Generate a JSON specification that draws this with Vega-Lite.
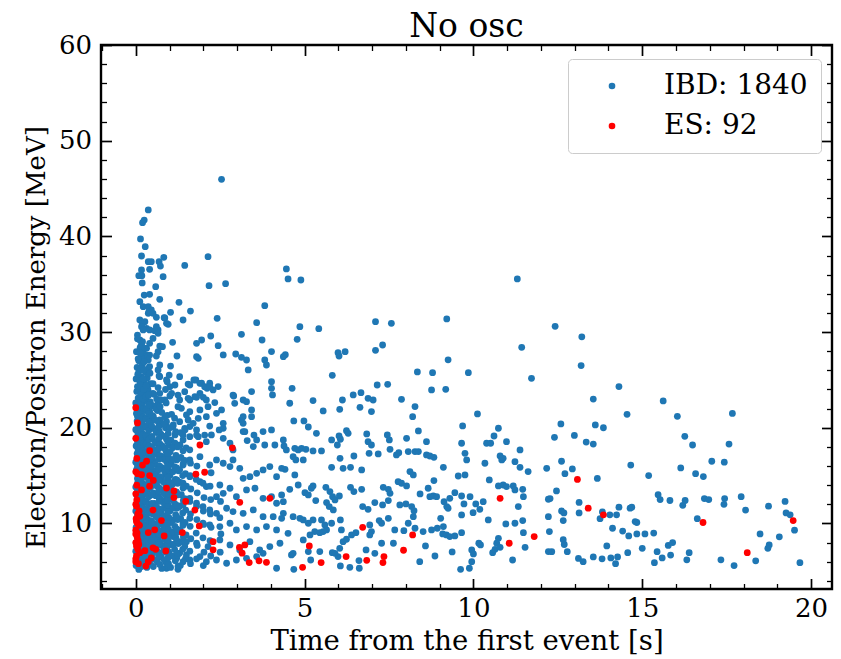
{
"$schema": "https://vega.github.io/schema/vega-lite/v6.json",
"width": 731, "height": 544,
"autosize": {"type": "none"},
"padding": {"left": 101, "top": 45, "right": 9, "bottom": 70},
"config": {"font": "DejaVu Serif", "view": {"stroke": "black", "strokeWidth": 2.4}},
"title": {"text": "No osc", "fontSize": 33, "fontWeight": "normal", "color": "black", "offset": -12},
"datasets": {
"ibd": [
{"x":12.42,"y":30.6},{"x":13.21,"y":29.5},{"x":13.19,"y":26.5},{"x":14.31,"y":24.3},{"x":13.55,"y":23.0},{"x":15.62,"y":22.8},{"x":17.67,"y":21.5},{"x":14.55,"y":21.4},{"x":16.04,"y":21.2},{"x":12.59,"y":20.4},{"x":13.61,"y":20.3},{"x":13.85,"y":20.0},{"x":12.40,"y":19.0},{"x":12.99,"y":19.2},{"x":16.26,"y":19.1},{"x":13.34,"y":18.5},{"x":13.55,"y":18.3},{"x":16.49,"y":18.2},{"x":17.57,"y":18.3},{"x":12.61,"y":16.5},{"x":14.66,"y":16.1},{"x":17.06,"y":16.5},{"x":17.43,"y":16.4},{"x":16.14,"y":15.8},{"x":12.93,"y":15.7},{"x":12.71,"y":15.2},{"x":13.67,"y":14.7},{"x":15.19,"y":15.0},{"x":16.58,"y":15.2},{"x":16.81,"y":14.9},{"x":12.46,"y":13.4},{"x":13.13,"y":12.2},{"x":12.27,"y":12.6},{"x":15.47,"y":13.0},{"x":15.53,"y":12.5},{"x":15.82,"y":12.4},{"x":16.20,"y":11.9},{"x":16.27,"y":12.4},{"x":16.84,"y":12.6},{"x":16.97,"y":12.5},{"x":17.44,"y":12.6},{"x":17.42,"y":12.0},{"x":17.93,"y":12.8},{"x":18.06,"y":11.4},{"x":18.74,"y":11.8},{"x":19.23,"y":12.3},{"x":19.26,"y":11.1},{"x":19.38,"y":10.9},{"x":19.51,"y":9.3},{"x":19.67,"y":5.9},{"x":13.13,"y":11.1},{"x":12.61,"y":11.3},{"x":12.68,"y":11.1},{"x":12.66,"y":10.3},{"x":13.75,"y":10.5},{"x":13.82,"y":11.2},{"x":14.04,"y":10.9},{"x":14.24,"y":10.9},{"x":14.31,"y":11.7},{"x":14.64,"y":11.6},{"x":14.69,"y":11.7},{"x":16.63,"y":10.5},{"x":14.79,"y":10.2},{"x":14.84,"y":10.1},{"x":14.12,"y":9.5},{"x":14.42,"y":9.2},{"x":14.60,"y":8.7},{"x":14.84,"y":8.9},{"x":15.08,"y":8.9},{"x":15.34,"y":9.0},{"x":12.66,"y":8.3},{"x":12.69,"y":7.8},{"x":12.78,"y":7.05},{"x":12.32,"y":7.05},{"x":13.95,"y":7.65},{"x":14.57,"y":6.95},{"x":15.0,"y":7.4},{"x":15.77,"y":7.7},{"x":15.90,"y":8.0},{"x":15.44,"y":7.05},{"x":15.84,"y":6.7},{"x":16.39,"y":6.95},{"x":18.49,"y":8.9},{"x":19.06,"y":8.6},{"x":18.76,"y":7.75},{"x":18.72,"y":7.4},{"x":18.36,"y":6.1},{"x":17.33,"y":6.2},{"x":17.72,"y":5.6},{"x":13.11,"y":6.35},{"x":13.25,"y":6.0},{"x":13.55,"y":6.5},{"x":13.81,"y":6.3},{"x":14.07,"y":6.4},{"x":14.27,"y":6.5},{"x":14.21,"y":5.8},{"x":15.36,"y":5.9},{"x":15.59,"y":6.4},{"x":16.32,"y":6.2},
{"x":4.46,"y":36.6},{"x":4.51,"y":35.55},{"x":4.89,"y":35.44},{"x":11.30,"y":35.55},{"x":4.86,"y":30.56},{"x":5.42,"y":30.36},{"x":4.78,"y":29.24},{"x":7.1,"y":31.09},{"x":7.57,"y":30.91},{"x":9.21,"y":31.37},{"x":11.43,"y":28.41},{"x":7.31,"y":28.65},{"x":7.1,"y":28.09},{"x":5.99,"y":27.85},{"x":6.02,"y":27.5},{"x":6.2,"y":27.95},{"x":4.43,"y":27.64},
{"x":9.25,"y":27.1},{"x":8.34,"y":25.83},{"x":8.79,"y":25.76},{"x":9.85,"y":25.76},{"x":5.82,"y":25.48},{"x":11.72,"y":25.17},{"x":7.15,"y":24.47},{"x":7.46,"y":24.54},{"x":4.63,"y":24.12},{"x":8.76,"y":23.95},{"x":9.18,"y":24.02},{"x":6.44,"y":23.43},{"x":6.67,"y":23.67},{"x":6.88,"y":23.08},{"x":7.03,"y":22.9},{"x":5.25,"y":22.84},{"x":6.12,"y":22.9},{"x":4.56,"y":22.56},{"x":7.87,"y":22.97},{"x":8.27,"y":22.21},{"x":8.20,"y":21.16},{"x":6.64,"y":22.14},{"x":6.98,"y":21.69},{"x":6.04,"y":21.93},{"x":5.55,"y":21.76},{"x":10.12,"y":21.44},{"x":4.68,"y":20.71},{"x":4.98,"y":20.71},{"x":5.11,"y":20.08},{"x":9.68,"y":20.19},{"x":10.74,"y":19.95},{"x":10.61,"y":19.14},{"x":6.24,"y":19.7},{"x":6.29,"y":19.42},{"x":6.02,"y":19.14},{"x":6.06,"y":18.8},{"x":5.35,"y":19.42},{"x":5.8,"y":18.73},{"x":5.97,"y":18.2},{"x":6.84,"y":19.35},{"x":6.88,"y":18.55},{"x":6.98,"y":18.2},{"x":7.45,"y":19.25},{"x":7.51,"y":18.73},{"x":7.53,"y":17.75},{"x":8.02,"y":18.9},{"x":8.37,"y":19.67},{"x":8.61,"y":18.55},{"x":9.65,"y":18.38},{"x":10.39,"y":18.38},{"x":10.51,"y":18.38},{"x":10.98,"y":18.55},{"x":11.38,"y":17.68},{"x":4.39,"y":18.1},{"x":4.71,"y":17.85},{"x":4.81,"y":17.68},{"x":4.91,"y":17.85},{"x":5.04,"y":17.75},{"x":5.25,"y":17.58},{"x":5.5,"y":17.58},{"x":4.66,"y":16.98},{"x":4.74,"y":16.64},{"x":4.96,"y":16.64},{"x":6.05,"y":16.81},{"x":6.46,"y":17.05},{"x":6.91,"y":17.33},{"x":7.18,"y":17.26},{"x":7.72,"y":17.16},{"x":7.79,"y":17.4},{"x":8.07,"y":17.51},{"x":8.27,"y":17.51},{"x":8.37,"y":17.51},{"x":8.61,"y":17.16},{"x":8.71,"y":17.05},{"x":8.83,"y":16.91},{"x":10.79,"y":17.05},{"x":10.84,"y":16.64},{"x":10.88,"y":16.81},{"x":11.23,"y":16.46},{"x":9.75,"y":17.33},{"x":9.80,"y":16.64},{"x":10.34,"y":16.29},{"x":4.42,"y":15.66},{"x":5.8,"y":15.87},{"x":6.14,"y":15.76},{"x":6.36,"y":15.87},{"x":6.69,"y":15.59},{"x":8.12,"y":15.42},{"x":8.22,"y":15.07},{"x":9.11,"y":15.87},{"x":9.55,"y":14.96},{"x":9.75,"y":15.07},{"x":11.38,"y":15.87},{"x":11.62,"y":15.42},{"x":12.17,"y":15.76},{"x":4.71,"y":15.07},{"x":4.32,"y":12.98},{"x":4.81,"y":14.02},{"x":4.56,"y":13.57},{"x":5.25,"y":13.92},{"x":5.2,"y":13.68},{"x":5.01,"y":13.22},{"x":5.11,"y":12.98},{"x":5.33,"y":12.39},{"x":5.63,"y":13.78},{"x":5.75,"y":13.33},{"x":5.83,"y":12.8},{"x":5.9,"y":12.46},{"x":6.03,"y":12.87},{"x":5.65,"y":12.18},{"x":5.73,"y":11.76},{"x":5.85,"y":11.41},{"x":6.36,"y":13.78},{"x":6.46,"y":13.33},{"x":6.69,"y":13.57},{"x":6.72,"y":11.76},{"x":6.88,"y":11.48},{"x":7.08,"y":12.18},{"x":7.33,"y":13.78},{"x":7.48,"y":13.57},{"x":7.53,"y":13.15},{"x":7.48,"y":12.39},{"x":7.31,"y":11.93},{"x":7.77,"y":14.37},{"x":7.87,"y":14.2},{"x":8.02,"y":13.92},{"x":8.42,"y":13.08},{"x":8.66,"y":13.68},{"x":8.71,"y":12.8},{"x":8.81,"y":12.87},{"x":8.91,"y":12.8},{"x":8.83,"y":14.48},{"x":7.82,"y":11.93},{"x":8.0,"y":12.04},{"x":8.17,"y":11.76},{"x":8.24,"y":11.34},{"x":8.22,"y":10.71},{"x":9.13,"y":12.28},{"x":9.21,"y":11.76},{"x":9.3,"y":12.63},{"x":9.45,"y":13.22},{"x":9.65,"y":12.87},{"x":9.72,"y":12.04},{"x":9.9,"y":12.8},{"x":10.07,"y":12.04},{"x":10.29,"y":12.28},{"x":10.47,"y":14.55},{"x":10.74,"y":13.92},{"x":10.88,"y":14.02},{"x":10.98,"y":13.85},{"x":11.18,"y":13.92},{"x":11.23,"y":13.5},{"x":11.46,"y":13.57},{"x":11.48,"y":12.8},{"x":11.33,"y":11.76},{"x":12.22,"y":12.53},{"x":4.37,"y":11.06},{"x":4.66,"y":10.71},{"x":4.86,"y":10.54},{"x":4.96,"y":10.37},{"x":5.11,"y":10.02},{"x":5.25,"y":10.37},{"x":5.5,"y":10.37},{"x":5.6,"y":9.85},{"x":5.65,"y":9.32},{"x":5.8,"y":10.02},{"x":6.06,"y":10.37},{"x":6.09,"y":9.32},{"x":5.3,"y":9.15},{"x":5.45,"y":9.04},{"x":5.55,"y":9.15},{"x":5.16,"y":8.8},{"x":6.39,"y":8.8},{"x":6.52,"y":9.04},{"x":6.93,"y":9.84},{"x":6.98,"y":9.15},{"x":6.93,"y":8.8},{"x":7.21,"y":10.3},{"x":7.28,"y":10.02},{"x":7.48,"y":10.54},{"x":7.67,"y":9.32},{"x":7.94,"y":9.25},{"x":8.07,"y":10.02},{"x":8.27,"y":9.5},{"x":8.51,"y":9.15},{"x":8.76,"y":9.32},{"x":8.93,"y":9.5},{"x":9.03,"y":10.54},{"x":9.11,"y":9.67},{"x":9.09,"y":8.9},{"x":9.2,"y":8.8},{"x":9.3,"y":8.63},{"x":9.45,"y":8.7},{"x":9.65,"y":9.04},{"x":9.25,"y":11.59},{"x":9.65,"y":10.89},{"x":9.99,"y":11.13},{"x":10.19,"y":11.48},{"x":10.44,"y":10.37},{"x":10.96,"y":9.95},{"x":11.23,"y":10.02},{"x":11.46,"y":10.3},{"x":10.74,"y":8.45},{"x":10.69,"y":7.93},{"x":11.48,"y":9.04},{"x":11.53,"y":7.51},{"x":12.22,"y":10.71},{"x":12.25,"y":9.15},{"x":12.22,"y":7.06},{"x":11.16,"y":6.18},{"x":10.57,"y":6.95},{"x":10.64,"y":7.3},{"x":10.79,"y":7.51},{"x":9.95,"y":7.23},{"x":10.0,"y":6.81},{"x":10.16,"y":7.93},{"x":10.21,"y":7.76},{"x":9.95,"y":6.01},{"x":9.62,"y":5.21},{"x":9.88,"y":5.32},{"x":9.37,"y":7.02},{"x":8.86,"y":6.6},{"x":8.58,"y":7.65},{"x":8.41,"y":6.01},{"x":7.63,"y":7.93},{"x":7.28,"y":7.93},{"x":7.08,"y":6.88},{"x":6.82,"y":7.23},{"x":6.61,"y":6.12},{"x":6.62,"y":5.32},{"x":6.34,"y":5.42},{"x":6.06,"y":5.56},{"x":5.99,"y":6.54},{"x":5.9,"y":6.88},{"x":5.82,"y":6.95},{"x":6.04,"y":7.4},{"x":6.14,"y":8.1},{"x":6.24,"y":8.35},{"x":5.45,"y":7.06},{"x":4.96,"y":8.28},{"x":5.11,"y":7.06},{"x":5.18,"y":6.18},{"x":4.68,"y":5.21},{"x":4.61,"y":6.71},{"x":4.66,"y":6.88},{"x":4.51,"y":8.97},
{"x":1.22,"y":27.5},{"x":1.8,"y":27.43},{"x":1.85,"y":27.26},{"x":2.59,"y":27.61},{"x":2.96,"y":27.71},{"x":3.13,"y":27.36},{"x":3.82,"y":27.09},{"x":3.87,"y":26.56},{"x":4.02,"y":27.96},{"x":4.37,"y":27.43},{"x":0.69,"y":25.41},{"x":0.93,"y":24.82},{"x":1.16,"y":24.47},{"x":1.6,"y":24.47},{"x":1.78,"y":24.99},{"x":1.95,"y":24.65},{"x":2.19,"y":24.65},{"x":2.44,"y":24.3},{"x":2.11,"y":24.12},{"x":2.9,"y":23.32},{"x":3.18,"y":22.9},{"x":3.43,"y":23.78},{"x":4.02,"y":24.82},{"x":4.02,"y":24.12},{"x":4.05,"y":23.43},{"x":0.71,"y":23.6},{"x":1.01,"y":23.32},{"x":1.3,"y":22.9},{"x":1.55,"y":23.08},{"x":1.75,"y":23.25},{"x":1.9,"y":23.6},{"x":2.09,"y":22.9},{"x":2.34,"y":22.63},{"x":2.54,"y":21.86},{"x":2.39,"y":21.51},{"x":2.09,"y":21.16},{"x":1.85,"y":20.99},{"x":1.5,"y":21.34},{"x":1.3,"y":20.64},{"x":1.11,"y":20.29},{"x":0.91,"y":20.64},{"x":1.6,"y":20.12},{"x":1.8,"y":19.77},{"x":1.6,"y":19.07},{"x":1.4,"y":18.73},{"x":1.16,"y":19.25},{"x":1.85,"y":19.07},{"x":2.09,"y":18.55},{"x":2.24,"y":19.25},{"x":2.47,"y":19.77},{"x":2.59,"y":18.9},{"x":2.79,"y":18.38},{"x":2.88,"y":17.68},{"x":3.13,"y":20.81},{"x":3.18,"y":19.6},{"x":3.3,"y":18.66},{"x":3.77,"y":19.6},{"x":3.58,"y":18.73},{"x":3.48,"y":18.03},{"x":4.02,"y":19.77},{"x":3.82,"y":18.2},{"x":4.12,"y":18.2},{"x":4.37,"y":18.73},{"x":4.46,"y":17.68},{"x":2.88,"y":16.64},{"x":2.79,"y":15.94},{"x":2.59,"y":16.29},{"x":2.39,"y":16.64},{"x":2.19,"y":16.11},{"x":1.9,"y":16.98},{"x":1.6,"y":16.64},{"x":1.4,"y":16.11},{"x":1.21,"y":16.64},{"x":1.01,"y":16.64},{"x":0.81,"y":16.98},{"x":3.08,"y":15.76},{"x":3.18,"y":14.72},{"x":3.38,"y":14.89},{"x":3.58,"y":15.24},{"x":3.77,"y":15.59},{"x":3.97,"y":15.94},{"x":4.17,"y":14.89},{"x":4.32,"y":15.76},{"x":1.6,"y":14.89},{"x":1.9,"y":14.37},{"x":2.09,"y":13.85},{"x":1.4,"y":14.2},{"x":1.21,"y":14.55},{"x":0.96,"y":14.37},{"x":0.76,"y":14.72},{"x":2.49,"y":14.02},{"x":2.79,"y":13.68},{"x":2.59,"y":13.15},{"x":2.39,"y":12.8},{"x":2.98,"y":12.8},{"x":3.28,"y":13.5},{"x":3.53,"y":13.68},{"x":3.77,"y":12.63},{"x":4.02,"y":12.8},{"x":4.17,"y":12.11},{"x":4.37,"y":12.28},{"x":1.6,"y":12.63},{"x":1.8,"y":12.11},{"x":1.99,"y":11.76},{"x":1.4,"y":11.93},{"x":1.21,"y":11.59},{"x":1.01,"y":11.41},{"x":2.19,"y":11.41},{"x":2.39,"y":11.06},{"x":2.69,"y":11.59},{"x":2.88,"y":11.24},{"x":3.18,"y":11.06},{"x":3.48,"y":11.41},{"x":3.77,"y":10.71},{"x":4.07,"y":10.71},{"x":4.32,"y":10.54},{"x":1.11,"y":10.37},{"x":1.4,"y":10.02},{"x":1.6,"y":10.54},{"x":1.99,"y":10.02},{"x":2.19,"y":9.85},{"x":2.49,"y":9.67},{"x":2.79,"y":10.02},{"x":2.98,"y":9.32},{"x":3.28,"y":9.67},{"x":3.58,"y":9.32},{"x":3.87,"y":9.67},{"x":4.17,"y":9.32},{"x":1.11,"y":8.63},{"x":1.5,"y":8.1},{"x":1.8,"y":7.93},{"x":2.14,"y":7.58},{"x":2.49,"y":8.28},{"x":2.79,"y":7.75},{"x":3.08,"y":7.23},{"x":3.38,"y":8.1},{"x":3.67,"y":7.23},{"x":3.97,"y":7.58},{"x":4.27,"y":7.93},{"x":1.21,"y":6.36},{"x":1.6,"y":6.18},{"x":1.9,"y":6.54},{"x":2.09,"y":6.01},{"x":2.39,"y":6.18},{"x":2.69,"y":5.84},{"x":2.98,"y":6.18},{"x":3.28,"y":6.36},{"x":3.58,"y":6.54},{"x":3.77,"y":6.88},{"x":1.25,"y":5.21},{"x":0.91,"y":5.32},{"x":1.5,"y":6.71},{"x":4.17,"y":5.32},
{"x":2.54,"y":45.96},{"x":0.37,"y":42.76},{"x":0.25,"y":41.71},{"x":0.2,"y":41.43},{"x":0.14,"y":39.73},{"x":0.28,"y":38.92},{"x":0.17,"y":37.95},{"x":0.83,"y":37.81},{"x":0.37,"y":37.36},{"x":0.46,"y":37.36},{"x":0.69,"y":37.36},{"x":0.73,"y":36.9},{"x":1.45,"y":36.97},{"x":2.14,"y":37.88},{"x":0.17,"y":36.49},{"x":0.41,"y":36.56},{"x":0.09,"y":35.89},{"x":0.18,"y":35.89},{"x":0.81,"y":35.79},{"x":0.19,"y":35.13},{"x":0.59,"y":34.74},{"x":2.17,"y":34.85},{"x":2.66,"y":35.06},{"x":0.25,"y":33.87},{"x":0.41,"y":33.94},{"x":0.71,"y":33.42},{"x":0.12,"y":33.18},{"x":0.22,"y":32.65},{"x":0.37,"y":32.65},{"x":1.28,"y":33.11},{"x":3.82,"y":32.76},{"x":0.46,"y":32.31},{"x":0.37,"y":31.96},{"x":0.61,"y":31.54},{"x":0.86,"y":31.47},{"x":1.03,"y":32.06},{"x":1.62,"y":32.2},{"x":0.12,"y":31.26},{"x":0.2,"y":30.91},{"x":0.27,"y":31.09},{"x":0.32,"y":30.39},{"x":0.41,"y":30.22},{"x":0.61,"y":30.56},{"x":0.66,"y":30.22},{"x":0.96,"y":30.81},{"x":1.4,"y":31.26},{"x":2.41,"y":31.44},{"x":3.58,"y":30.98},{"x":0.05,"y":29.69},{"x":0.12,"y":29.17},{"x":0.17,"y":28.72},{"x":0.41,"y":28.82},{"x":0.71,"y":28.54},{"x":0.79,"y":28.47},{"x":1.09,"y":28.93},{"x":1.8,"y":28.82},{"x":1.95,"y":29.17},{"x":2.22,"y":29.59},{"x":2.44,"y":28.58},{"x":3.13,"y":29.76},{"x":3.74,"y":29.17},{"x":0.02,"y":27.95},{"x":0.12,"y":27.85},{"x":0.22,"y":27.78},{"x":0.32,"y":27.6},{"x":0.41,"y":27.6},
{"x":0.39,"y":32.13},{"x":0.51,"y":31.96},{"x":0.84,"y":31.5},{"x":0.91,"y":30.91},{"x":0.17,"y":30.56},{"x":0.22,"y":30.22},{"x":0.56,"y":30.15},{"x":0.66,"y":29.87},{"x":3.28,"y":27.08},{"x":3.33,"y":26.04},{"x":1.03,"y":26.45},{"x":0.99,"y":25.51},{"x":1.3,"y":25.34},{"x":0.66,"y":27.95},{"x":0.61,"y":27.5},{"x":0.51,"y":29.34},{"x":0.32,"y":28.3},{"x":0.27,"y":27.43},{"x":0.37,"y":27.08},{"x":0.71,"y":26.56},{"x":0.66,"y":26.04},{"x":0.41,"y":26.4},{"x":0.71,"y":25.34},{"x":0.91,"y":24.99},{"x":1.01,"y":24.29},{"x":1.25,"y":23.42},{"x":1.45,"y":23.77},{"x":1.55,"y":24.57},{"x":1.72,"y":24.99},{"x":1.9,"y":24.64},{"x":2.04,"y":24.29},{"x":2.19,"y":24.29},{"x":2.29,"y":23.95},{"x":1.06,"y":23.6},{"x":0.86,"y":22.9},{"x":0.66,"y":22.55},{"x":0.51,"y":23.6},{"x":1.6,"y":22.9},{"x":1.8,"y":23.18},{"x":2.0,"y":23.18},{"x":2.14,"y":22.2},{"x":1.9,"y":21.86},{"x":1.6,"y":21.68},{"x":1.35,"y":22.03},{"x":1.25,"y":22.2},{"x":2.88,"y":23.42},{"x":2.93,"y":22.55},{"x":3.28,"y":22.73},{"x":3.43,"y":21.86},{"x":3.43,"y":21.16},{"x":3.18,"y":21.16},{"x":2.19,"y":20.18},{"x":2.59,"y":20.46},{"x":2.59,"y":19.94},{"x":3.18,"y":20.46},{"x":3.23,"y":19.59},{"x":3.5,"y":19.24},{"x":1.8,"y":19.24},{"x":2.04,"y":19.24},{"x":1.4,"y":19.24},{"x":1.1,"y":20.11},{"x":0.86,"y":21.16},{"x":0.71,"y":20.81},{"x":0.91,"y":20.11},{"x":0.66,"y":19.59},{"x":1.55,"y":20.81},{"x":1.7,"y":20.46},{"x":1.45,"y":19.94},
{"x":0.01,"y":5.6},{"x":0.04,"y":6.4},{"x":0.0,"y":7.1},{"x":0.03,"y":7.9},{"x":0.05,"y":8.7},{"x":0.01,"y":9.6},{"x":0.03,"y":10.4},{"x":0.0,"y":11.3},{"x":0.04,"y":12.1},{"x":0.02,"y":13.0},{"x":0.0,"y":13.8},{"x":0.05,"y":14.7},{"x":0.02,"y":15.6},{"x":0.0,"y":16.4},{"x":0.04,"y":17.3},{"x":0.01,"y":18.1},{"x":0.03,"y":19.0},{"x":0.0,"y":19.8},{"x":0.04,"y":20.7},{"x":0.02,"y":21.5},{"x":0.0,"y":22.6},{"x":0.03,"y":23.8},{"x":0.01,"y":25.1},{"x":0.04,"y":26.3},
{"x":0.09,"y":5.2},{"x":0.12,"y":5.9},{"x":0.08,"y":6.7},{"x":0.11,"y":7.5},{"x":0.1,"y":8.3},{"x":0.13,"y":9.1},{"x":0.08,"y":9.9},{"x":0.11,"y":10.7},{"x":0.09,"y":11.6},{"x":0.12,"y":12.4},{"x":0.1,"y":13.3},{"x":0.08,"y":14.1},{"x":0.13,"y":15.0},{"x":0.1,"y":15.8},{"x":0.09,"y":16.7},{"x":0.12,"y":17.6},{"x":0.1,"y":18.5},{"x":0.08,"y":19.3},{"x":0.11,"y":20.2},{"x":0.13,"y":21.1},{"x":0.09,"y":22.0},{"x":0.11,"y":22.9},{"x":0.08,"y":23.9},{"x":0.12,"y":24.8},{"x":0.1,"y":25.9},{"x":0.09,"y":27.0},{"x":0.13,"y":28.4},
{"x":0.17,"y":5.5},{"x":0.2,"y":6.2},{"x":0.16,"y":7.0},{"x":0.19,"y":7.8},{"x":0.18,"y":8.6},{"x":0.21,"y":9.4},{"x":0.17,"y":10.2},{"x":0.2,"y":11.0},{"x":0.16,"y":11.8},{"x":0.19,"y":12.7},{"x":0.21,"y":13.5},{"x":0.17,"y":14.4},{"x":0.19,"y":15.3},{"x":0.16,"y":16.1},{"x":0.2,"y":17.0},{"x":0.18,"y":17.9},{"x":0.21,"y":18.8},{"x":0.17,"y":19.6},{"x":0.19,"y":20.5},{"x":0.16,"y":21.4},{"x":0.2,"y":22.3},{"x":0.18,"y":23.2},{"x":0.21,"y":24.2},{"x":0.17,"y":25.3},{"x":0.19,"y":26.5},{"x":0.16,"y":27.4},{"x":0.2,"y":29.0},
{"x":0.25,"y":5.8},{"x":0.28,"y":6.6},{"x":0.24,"y":7.4},{"x":0.27,"y":8.2},{"x":0.26,"y":9.0},{"x":0.29,"y":9.8},{"x":0.25,"y":10.6},{"x":0.27,"y":11.5},{"x":0.24,"y":12.3},{"x":0.28,"y":13.1},{"x":0.26,"y":14.0},{"x":0.29,"y":14.9},{"x":0.25,"y":15.7},{"x":0.27,"y":16.6},{"x":0.24,"y":17.5},{"x":0.28,"y":18.3},{"x":0.26,"y":19.2},{"x":0.29,"y":20.1},{"x":0.25,"y":21.0},{"x":0.27,"y":21.8},{"x":0.24,"y":22.8},{"x":0.28,"y":23.7},{"x":0.26,"y":24.7},{"x":0.29,"y":25.8},{"x":0.25,"y":26.9},{"x":0.27,"y":28.3},
{"x":0.33,"y":5.4},{"x":0.36,"y":6.3},{"x":0.32,"y":7.2},{"x":0.35,"y":8.0},{"x":0.34,"y":8.9},{"x":0.37,"y":9.7},{"x":0.33,"y":10.5},{"x":0.35,"y":11.4},{"x":0.32,"y":12.2},{"x":0.36,"y":13.1},{"x":0.34,"y":14.0},{"x":0.37,"y":14.8},{"x":0.33,"y":15.6},{"x":0.35,"y":16.5},{"x":0.32,"y":17.4},{"x":0.36,"y":18.2},{"x":0.34,"y":19.1},{"x":0.37,"y":20.0},{"x":0.33,"y":20.9},{"x":0.35,"y":21.9},{"x":0.32,"y":22.9},{"x":0.36,"y":24.0},{"x":0.34,"y":25.2},{"x":0.37,"y":26.2},
{"x":0.41,"y":5.9},{"x":0.44,"y":6.9},{"x":0.4,"y":7.7},{"x":0.43,"y":8.5},{"x":0.42,"y":9.5},{"x":0.45,"y":10.3},{"x":0.41,"y":11.2},{"x":0.43,"y":12.0},{"x":0.4,"y":12.9},{"x":0.44,"y":13.8},{"x":0.42,"y":14.6},{"x":0.45,"y":15.5},{"x":0.41,"y":16.3},{"x":0.43,"y":17.2},{"x":0.4,"y":18.1},{"x":0.44,"y":19.0},{"x":0.42,"y":19.9},{"x":0.45,"y":20.8},{"x":0.41,"y":21.7},{"x":0.43,"y":22.7},{"x":0.4,"y":23.6},{"x":0.44,"y":24.6},{"x":0.42,"y":25.7},
{"x":0.52,"y":5.5},{"x":0.5,"y":6.8},{"x":0.54,"y":7.9},{"x":0.51,"y":8.9},{"x":0.53,"y":10.0},{"x":0.5,"y":11.0},{"x":0.55,"y":12.1},{"x":0.52,"y":13.2},{"x":0.5,"y":14.2},{"x":0.54,"y":15.5},{"x":0.51,"y":16.6},{"x":0.53,"y":17.7},{"x":0.5,"y":18.8},{"x":0.55,"y":19.9},{"x":0.52,"y":21.2},{"x":0.5,"y":22.3},{"x":0.54,"y":23.5},{"x":0.51,"y":24.6},
{"x":0.64,"y":6.0},{"x":0.62,"y":7.2},{"x":0.66,"y":8.4},{"x":0.63,"y":9.5},{"x":0.65,"y":10.6},{"x":0.62,"y":11.7},{"x":0.67,"y":12.8},{"x":0.64,"y":13.9},{"x":0.62,"y":15.0},{"x":0.66,"y":16.0},{"x":0.63,"y":17.2},{"x":0.65,"y":18.3},{"x":0.62,"y":19.5},{"x":0.67,"y":20.6},{"x":0.64,"y":21.8},{"x":0.62,"y":23.0},{"x":0.66,"y":24.2},
{"x":0.77,"y":5.3},{"x":0.75,"y":6.5},{"x":0.79,"y":7.7},{"x":0.76,"y":8.8},{"x":0.78,"y":9.9},{"x":0.75,"y":11.1},{"x":0.8,"y":12.4},{"x":0.77,"y":13.5},{"x":0.75,"y":14.7},{"x":0.79,"y":15.8},{"x":0.76,"y":17.0},{"x":0.78,"y":18.1},{"x":0.75,"y":19.3},{"x":0.8,"y":20.4},{"x":0.77,"y":21.6},{"x":0.75,"y":22.9},
{"x":0.9,"y":5.9},{"x":0.88,"y":7.0},{"x":0.92,"y":8.2},{"x":0.89,"y":9.3},{"x":0.91,"y":10.5},{"x":0.88,"y":11.6},{"x":0.93,"y":12.8},{"x":0.9,"y":14.0},{"x":0.88,"y":15.2},{"x":0.92,"y":16.4},{"x":0.89,"y":17.6},{"x":0.91,"y":18.8},{"x":0.88,"y":20.0},{"x":0.93,"y":21.3},{"x":0.9,"y":22.6},{"x":0.88,"y":24.0},
{"x":1.03,"y":5.4},{"x":1.01,"y":6.6},{"x":1.05,"y":7.8},{"x":1.02,"y":9.0},{"x":1.04,"y":10.1},{"x":1.01,"y":11.3},{"x":1.06,"y":12.5},{"x":1.03,"y":13.8},{"x":1.01,"y":15.0},{"x":1.05,"y":16.2},{"x":1.02,"y":17.5},{"x":1.04,"y":18.7},{"x":1.01,"y":20.0},{"x":1.06,"y":21.4},
{"x":1.17,"y":6.1},{"x":1.15,"y":7.3},{"x":1.19,"y":8.5},{"x":1.16,"y":9.7},{"x":1.18,"y":10.9},{"x":1.15,"y":12.1},{"x":1.2,"y":13.3},{"x":1.17,"y":14.6},{"x":1.15,"y":15.9},{"x":1.19,"y":17.1},{"x":1.16,"y":18.4},{"x":1.18,"y":19.6},{"x":1.15,"y":21.0},
{"x":1.32,"y":5.6},{"x":1.3,"y":6.9},{"x":1.34,"y":8.1},{"x":1.31,"y":9.3},{"x":1.33,"y":10.5},{"x":1.3,"y":11.8},{"x":1.35,"y":13.0},{"x":1.32,"y":14.3},{"x":1.3,"y":15.6},{"x":1.34,"y":16.9},{"x":1.31,"y":18.2},{"x":1.33,"y":19.5},
{"x":1.47,"y":6.3},{"x":1.45,"y":7.6},{"x":1.49,"y":8.8},{"x":1.46,"y":10.1},{"x":1.48,"y":11.4},{"x":1.45,"y":12.6},{"x":1.5,"y":13.9},{"x":1.47,"y":15.2},{"x":1.45,"y":16.6},{"x":1.49,"y":17.9},{"x":1.46,"y":19.8},
{"x":0.58,"y":6.2},{"x":0.59,"y":7.4},{"x":0.57,"y":8.5},{"x":0.58,"y":9.6},{"x":0.6,"y":10.7},{"x":0.57,"y":11.8},{"x":0.59,"y":12.9},{"x":0.58,"y":14.0},{"x":0.6,"y":15.1},{"x":0.57,"y":16.2},{"x":0.59,"y":17.3},{"x":0.58,"y":18.4},{"x":0.6,"y":19.6},{"x":0.57,"y":20.8},{"x":0.59,"y":22.0},
{"x":0.71,"y":5.7},{"x":0.7,"y":6.9},{"x":0.72,"y":8.0},{"x":0.71,"y":9.2},{"x":0.7,"y":10.3},{"x":0.72,"y":11.5},{"x":0.71,"y":12.6},{"x":0.7,"y":13.7},{"x":0.72,"y":14.9},{"x":0.71,"y":16.0},{"x":0.7,"y":17.1},{"x":0.72,"y":18.3},{"x":0.7,"y":19.6},{"x":0.72,"y":22.2},
{"x":0.84,"y":6.2},{"x":0.83,"y":7.3},{"x":0.85,"y":8.4},{"x":0.84,"y":9.6},{"x":0.83,"y":10.8},{"x":0.85,"y":12.0},{"x":0.84,"y":13.1},{"x":0.83,"y":14.3},{"x":0.85,"y":15.5},{"x":0.84,"y":16.7},{"x":0.83,"y":17.9},{"x":0.85,"y":19.1},{"x":0.84,"y":20.4},
{"x":0.97,"y":5.8},{"x":0.98,"y":7.0},{"x":0.96,"y":8.2},{"x":0.97,"y":9.4},{"x":0.98,"y":10.6},{"x":0.96,"y":11.9},{"x":0.97,"y":13.1},{"x":0.98,"y":14.4},{"x":0.96,"y":15.6},{"x":0.97,"y":16.9},{"x":0.98,"y":18.2},{"x":0.96,"y":19.4},
{"x":1.1,"y":6.6},{"x":1.11,"y":7.8},{"x":1.09,"y":9.1},{"x":1.1,"y":11.6},{"x":1.11,"y":12.9},{"x":1.09,"y":14.1},{"x":1.1,"y":15.4},{"x":1.11,"y":16.7},{"x":1.09,"y":17.9},
{"x":1.25,"y":5.5},{"x":1.24,"y":6.7},{"x":1.26,"y":7.9},{"x":1.25,"y":9.1},{"x":1.24,"y":10.4},{"x":1.26,"y":11.7},{"x":1.25,"y":13.0},{"x":1.24,"y":14.2},{"x":1.26,"y":15.5},{"x":1.25,"y":16.8},{"x":1.24,"y":18.0},
{"x":1.4,"y":6.0},{"x":1.39,"y":7.3},{"x":1.41,"y":8.6},{"x":1.4,"y":9.8},{"x":1.39,"y":11.1},{"x":1.41,"y":12.4},{"x":1.4,"y":13.7},{"x":1.39,"y":15.0},{"x":1.41,"y":16.3},{"x":1.4,"y":17.6},
{"x":1.62,"y":5.8},{"x":1.6,"y":7.1},{"x":1.63,"y":8.4},{"x":1.61,"y":9.7},{"x":1.62,"y":11.0},{"x":1.6,"y":12.3},{"x":1.63,"y":13.6},{"x":1.61,"y":15.0},{"x":1.62,"y":16.3},{"x":1.6,"y":17.7},
{"x":1.8,"y":6.3},{"x":1.82,"y":7.7},{"x":1.79,"y":9.0},{"x":1.81,"y":10.4},{"x":1.8,"y":11.8},{"x":1.82,"y":13.2},{"x":1.79,"y":14.6},{"x":1.81,"y":16.0},
{"x":2.0,"y":5.6},{"x":2.02,"y":7.0},{"x":1.99,"y":8.5},{"x":2.01,"y":9.9},{"x":2.0,"y":11.3},{"x":2.02,"y":12.7},{"x":1.99,"y":14.2},
{"x":2.22,"y":6.6},{"x":2.2,"y":8.2},{"x":2.23,"y":9.6},{"x":2.21,"y":11.0},{"x":2.22,"y":12.5},{"x":2.2,"y":13.9},{"x":2.23,"y":15.3},
{"x":2.5,"y":7.0},{"x":2.52,"y":8.9},{"x":2.49,"y":10.6},{"x":2.51,"y":12.3},
{"x":0.06,"y":5.9},{"x":0.06,"y":6.8},{"x":0.07,"y":7.6},{"x":0.05,"y":8.4},{"x":0.06,"y":9.2},{"x":0.07,"y":10.0},{"x":0.05,"y":10.9},{"x":0.06,"y":11.7},{"x":0.07,"y":12.6},{"x":0.05,"y":13.4},{"x":0.06,"y":14.3},{"x":0.07,"y":15.2},{"x":0.05,"y":16.0},{"x":0.06,"y":16.9},{"x":0.07,"y":17.7},{"x":0.05,"y":18.6},{"x":0.06,"y":19.5},{"x":0.07,"y":20.3},{"x":0.05,"y":21.2},{"x":0.06,"y":22.1},{"x":0.07,"y":23.1},{"x":0.05,"y":24.3},{"x":0.06,"y":25.6},{"x":0.07,"y":27.2},{"x":0.05,"y":29.3},
{"x":0.14,"y":5.6},{"x":0.15,"y":6.4},{"x":0.14,"y":7.2},{"x":0.15,"y":8.0},{"x":0.14,"y":8.8},{"x":0.15,"y":9.6},{"x":0.14,"y":10.4},{"x":0.15,"y":11.3},{"x":0.14,"y":12.1},{"x":0.15,"y":12.9},{"x":0.14,"y":13.8},{"x":0.15,"y":14.6},{"x":0.14,"y":15.5},{"x":0.15,"y":16.3},{"x":0.14,"y":17.2},{"x":0.15,"y":18.1},{"x":0.14,"y":18.9},{"x":0.15,"y":19.8},{"x":0.14,"y":20.7},{"x":0.15,"y":21.6},{"x":0.14,"y":22.6},{"x":0.15,"y":23.5},{"x":0.14,"y":24.5},{"x":0.15,"y":26.2},{"x":0.14,"y":27.8},
{"x":0.22,"y":5.9},{"x":0.23,"y":6.7},{"x":0.22,"y":7.5},{"x":0.23,"y":8.3},{"x":0.22,"y":9.1},{"x":0.23,"y":9.9},{"x":0.22,"y":10.7},{"x":0.23,"y":11.6},{"x":0.22,"y":12.4},{"x":0.23,"y":13.2},{"x":0.22,"y":14.1},{"x":0.23,"y":15.0},{"x":0.22,"y":15.8},{"x":0.23,"y":16.7},{"x":0.22,"y":17.6},{"x":0.23,"y":18.4},{"x":0.22,"y":19.3},{"x":0.23,"y":20.2},{"x":0.22,"y":21.1},{"x":0.23,"y":22.0},{"x":0.22,"y":23.0},{"x":0.23,"y":24.0},{"x":0.22,"y":25.1},{"x":0.23,"y":26.0},
{"x":0.3,"y":5.6},{"x":0.31,"y":6.5},{"x":0.3,"y":7.3},{"x":0.31,"y":8.1},{"x":0.3,"y":9.0},{"x":0.31,"y":9.8},{"x":0.3,"y":10.6},{"x":0.31,"y":11.4},{"x":0.3,"y":12.3},{"x":0.31,"y":13.2},{"x":0.3,"y":14.0},{"x":0.31,"y":14.9},{"x":0.3,"y":15.7},{"x":0.31,"y":16.6},{"x":0.3,"y":17.4},{"x":0.31,"y":18.3},{"x":0.3,"y":19.2},{"x":0.31,"y":20.1},{"x":0.3,"y":21.0},{"x":0.31,"y":21.9},{"x":0.3,"y":23.3},{"x":0.31,"y":24.4},
{"x":0.38,"y":6.1},{"x":0.39,"y":7.0},{"x":0.38,"y":7.8},{"x":0.39,"y":8.6},{"x":0.38,"y":9.5},{"x":0.39,"y":10.3},{"x":0.38,"y":11.1},{"x":0.39,"y":12.0},{"x":0.38,"y":12.8},{"x":0.39,"y":13.7},{"x":0.38,"y":14.5},{"x":0.39,"y":15.4},{"x":0.38,"y":16.2},{"x":0.39,"y":17.1},{"x":0.38,"y":18.0},{"x":0.39,"y":18.8},{"x":0.38,"y":19.7},{"x":0.39,"y":20.6},{"x":0.38,"y":21.5},{"x":0.39,"y":22.4},{"x":0.38,"y":23.4},
{"x":0.47,"y":6.3},{"x":0.48,"y":7.3},{"x":0.47,"y":8.2},{"x":0.48,"y":9.2},{"x":0.47,"y":10.1},{"x":0.48,"y":11.1},{"x":0.47,"y":12.1},{"x":0.48,"y":13.0},{"x":0.47,"y":14.0},{"x":0.48,"y":15.0},{"x":0.47,"y":16.0},{"x":0.48,"y":17.0},{"x":0.47,"y":18.0},{"x":0.48,"y":19.1},{"x":0.47,"y":20.2},{"x":0.48,"y":21.3},
{"x":0.68,"y":6.6},{"x":0.69,"y":7.8},{"x":0.68,"y":8.9},{"x":0.69,"y":10.1},{"x":0.68,"y":11.2},{"x":0.69,"y":12.3},{"x":0.68,"y":13.4},{"x":0.69,"y":14.5},{"x":0.68,"y":15.6},{"x":0.69,"y":16.7},{"x":0.68,"y":17.8},{"x":0.69,"y":18.9},{"x":0.68,"y":20.1},
{"x":0.95,"y":6.4},{"x":0.94,"y":7.6},{"x":0.95,"y":8.8},{"x":0.94,"y":10.0},{"x":0.95,"y":11.2},{"x":0.94,"y":12.4},{"x":0.95,"y":13.6},{"x":0.94,"y":14.8},{"x":0.95,"y":16.0},{"x":0.94,"y":17.3},{"x":0.95,"y":18.5},
{"x":1.22,"y":6.9},{"x":1.21,"y":8.2},{"x":1.22,"y":9.4},{"x":1.21,"y":10.7},{"x":1.22,"y":11.9},{"x":1.21,"y":13.2},{"x":1.22,"y":14.5},{"x":1.21,"y":15.8}
],
"es": [
{"x":0.0,"y":22.1},{"x":0.0,"y":18.9},{"x":0.41,"y":17.6},{"x":0.32,"y":16.5},{"x":0.2,"y":16.1},{"x":0.0,"y":15.4},{"x":0.05,"y":15.2},{"x":0.17,"y":15.1},{"x":0.41,"y":15.0},{"x":0.52,"y":14.5},{"x":0.41,"y":13.9},{"x":0.17,"y":13.5},{"x":0.91,"y":13.7},{"x":1.13,"y":13.4},{"x":1.13,"y":12.7},{"x":1.48,"y":12.3},{"x":1.75,"y":11.4},{"x":1.9,"y":18.2},{"x":2.86,"y":17.9},{"x":1.78,"y":15.15},{"x":2.04,"y":15.35},{"x":0.0,"y":13.1},{"x":0.03,"y":12.46},{"x":0.02,"y":11.8},{"x":0.51,"y":11.4},{"x":0.12,"y":10.75},{"x":0.02,"y":10.2},{"x":0.11,"y":9.8},{"x":0.76,"y":10.3},{"x":1.88,"y":9.74},{"x":0.37,"y":9.05},{"x":0.56,"y":9.33},{"x":0.84,"y":8.7},{"x":1.38,"y":9.05},{"x":0.0,"y":9.3},{"x":0.04,"y":8.6},{"x":0.07,"y":8.2},{"x":0.02,"y":7.65},{"x":0.12,"y":6.95},{"x":0.27,"y":7.15},{"x":0.0,"y":6.0},{"x":0.51,"y":7.45},{"x":0.59,"y":7.3},{"x":0.89,"y":7.13},{"x":0.46,"y":6.4},{"x":0.37,"y":6.0},{"x":0.3,"y":5.55},{"x":2.29,"y":8.1},{"x":2.29,"y":7.24},{"x":3.07,"y":7.5},{"x":3.23,"y":7.76},{"x":3.15,"y":6.89},{"x":3.36,"y":5.91},{"x":3.65,"y":6.1},{"x":3.87,"y":5.94},{"x":3.08,"y":12.21},{"x":3.97,"y":12.63},{"x":6.72,"y":9.6},{"x":8.2,"y":8.8},{"x":10.79,"y":12.63},{"x":11.06,"y":7.93},{"x":11.8,"y":8.63},{"x":7.93,"y":7.2},{"x":7.35,"y":6.54},{"x":7.32,"y":5.91},{"x":6.84,"y":6.15},{"x":6.23,"y":6.54},{"x":5.49,"y":5.91},{"x":5.14,"y":7.65},{"x":4.94,"y":5.42},{"x":13.08,"y":14.6},{"x":13.40,"y":11.6},{"x":13.85,"y":10.9},{"x":16.80,"y":10.1},{"x":18.11,"y":6.95},{"x":19.47,"y":10.3},
{"x":0.03,"y":14.0},{"x":0.0,"y":12.0},{"x":0.06,"y":11.0},{"x":0.01,"y":10.5},{"x":0.04,"y":9.0},{"x":0.0,"y":8.0},{"x":0.06,"y":7.3},{"x":0.02,"y":6.6},{"x":0.0,"y":6.3},{"x":0.03,"y":16.8},{"x":0.05,"y":20.5},{"x":0.08,"y":5.8},{"x":0.0,"y":8.9},{"x":0.09,"y":7.8},{"x":0.05,"y":10.0},{"x":0.1,"y":11.3}
]
},
"layer": [
{
"data": {"name": "ibd"},
"mark": {"type": "point", "filled": true, "size": 46, "opacity": 1, "strokeWidth": 0},
"encoding": {
"x": {"field": "x", "type": "quantitative", "scale": {"domain": [-1.03, 20.62], "nice": false, "zero": false},
"axis": {"orient": "bottom", "values": [0,5,10,15,20], "tickSize": -10.5, "tickWidth": 1.7, "tickColor": "black", "domain": false, "grid": false, "labelFontSize": 26, "labelColor": "black", "labelPadding": 17, "labelFlush": false, "title": "Time from the first event [s]", "titleFontSize": 27.5, "titleFontWeight": "normal", "titleColor": "black", "titlePadding": 6}},
"y": {"field": "y", "type": "quantitative", "scale": {"domain": [3.15, 60], "nice": false, "zero": false},
"axis": {"orient": "left", "values": [10,20,30,40,50,60], "tickSize": -10.5, "tickWidth": 1.7, "tickColor": "black", "domain": false, "grid": false, "labelFontSize": 26, "labelColor": "black", "labelPadding": 20, "labelFlush": false, "title": "Electron/Positron Energy [MeV]", "titleFontSize": 26, "titleFontWeight": "normal", "titleColor": "black", "titlePadding": 9, "titleY": 292}},
"color": {"datum": "IBD: 1840", "scale": {"domain": ["IBD: 1840", "ES: 92"], "range": ["#1f77b4", "#ff0000"]},
"legend": {"title": null, "orient": "none", "legendX": 467, "legendY": 14, "symbolType": "circle", "symbolSize": 44, "symbolStrokeWidth": 0, "labelFontSize": 28, "labelColor": "black", "labelOffset": 38, "symbolOffset": 17, "rowPadding": 12, "padding": 13, "strokeColor": "#cccccc", "fillColor": "white", "cornerRadius": 4}}
}
},
{
"data": {"name": "es"},
"mark": {"type": "point", "filled": true, "size": 46, "opacity": 1, "strokeWidth": 0},
"encoding": {
"x": {"field": "x", "type": "quantitative", "scale": {"domain": [-1.03, 20.62], "nice": false, "zero": false}, "axis": null},
"y": {"field": "y", "type": "quantitative", "scale": {"domain": [3.15, 60], "nice": false, "zero": false}, "axis": null},
"color": {"datum": "ES: 92"}
}
},
{
"data": {"name": "es"},
"mark": {"type": "point", "opacity": 0},
"encoding": {
"x": {"field": "x", "type": "quantitative", "scale": {"domain": [-1.03, 20.62], "nice": false, "zero": false},
"axis": {"orient": "bottom", "values": [-1,1,2,3,4,6,7,8,9,11,12,13,14,16,17,18,19], "tickSize": -5.5, "tickWidth": 1.3, "tickColor": "black", "domain": false, "grid": false, "labels": false, "title": null}},
"y": {"field": "y", "type": "quantitative", "scale": {"domain": [3.15, 60], "nice": false, "zero": false},
"axis": {"orient": "left", "values": [4,6,8,12,14,16,18,22,24,26,28,32,34,36,38,42,44,46,48,52,54,56,58], "tickSize": -5.5, "tickWidth": 1.3, "tickColor": "black", "domain": false, "grid": false, "labels": false, "title": null}}
}
},
{
"data": {"name": "es"},
"mark": {"type": "point", "opacity": 0},
"encoding": {
"x": {"field": "x", "type": "quantitative", "scale": {"domain": [-1.03, 20.62], "nice": false, "zero": false},
"axis": {"orient": "top", "values": [0,5,10,15,20], "tickSize": -10.5, "tickWidth": 1.7, "tickColor": "black", "domain": false, "grid": false, "labels": false, "title": null}},
"y": {"field": "y", "type": "quantitative", "scale": {"domain": [3.15, 60], "nice": false, "zero": false},
"axis": {"orient": "right", "values": [10,20,30,40,50,60], "tickSize": -10.5, "tickWidth": 1.7, "tickColor": "black", "domain": false, "grid": false, "labels": false, "title": null}}
}
},
{
"data": {"name": "es"},
"mark": {"type": "point", "opacity": 0},
"encoding": {
"x": {"field": "x", "type": "quantitative", "scale": {"domain": [-1.03, 20.62], "nice": false, "zero": false},
"axis": {"orient": "top", "values": [-1,1,2,3,4,6,7,8,9,11,12,13,14,16,17,18,19], "tickSize": -5.5, "tickWidth": 1.3, "tickColor": "black", "domain": false, "grid": false, "labels": false, "title": null}},
"y": {"field": "y", "type": "quantitative", "scale": {"domain": [3.15, 60], "nice": false, "zero": false},
"axis": {"orient": "right", "values": [4,6,8,12,14,16,18,22,24,26,28,32,34,36,38,42,44,46,48,52,54,56,58], "tickSize": -5.5, "tickWidth": 1.3, "tickColor": "black", "domain": false, "grid": false, "labels": false, "title": null}}
}
}
],
"resolve": {"axis": {"x": "independent", "y": "independent"}}
}
